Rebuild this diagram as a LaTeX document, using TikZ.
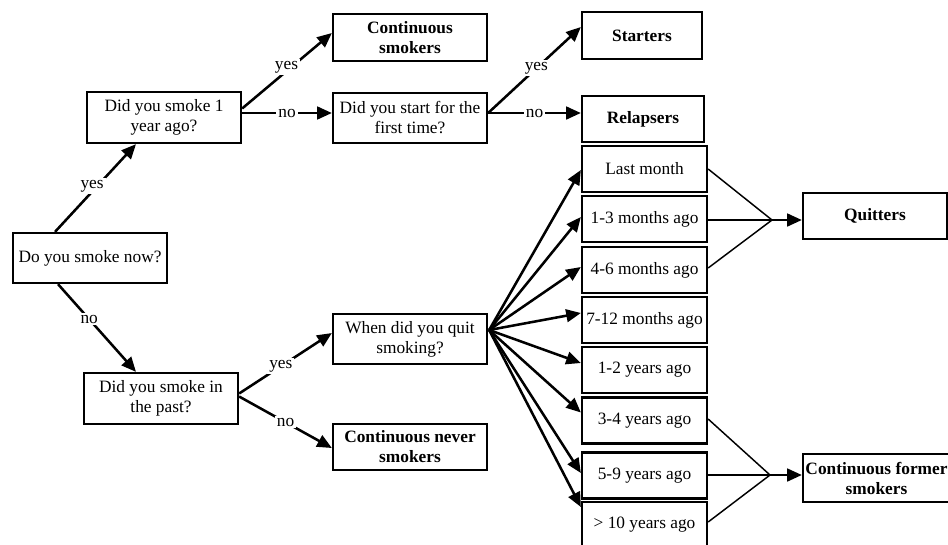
\documentclass[tikz,border=0pt]{standalone}
\usepackage{fontspec}
\setmainfont{Liberation Serif}
\usetikzlibrary{arrows.meta,calc}
\newlength\upx \setlength\upx{0.75pt}
\begin{document}
\begin{tikzpicture}[x=0.75pt,y=-0.75pt,
  box/.style={draw,line width=1.7pt,inner sep=0pt,align=center,font=\fontsize{13}{15}\selectfont},
  qbox/.style={box,minimum width=154\upx,minimum height=50\upx},
  tbox/.style={box,minimum width=125\upx,minimum height=46\upx},
  obox/.style={box,font=\fontsize{13}{15}\selectfont\bfseries},
  arr/.style={line width=1.9pt,-{Triangle[length=11pt,width=9.5pt]}},
  thinln/.style={line width=1.1pt},
  lbl/.style={fill=white,inner sep=1.5pt,font=\fontsize{13}{15}\selectfont}]
\useasboundingbox (0,0) rectangle (948,544);
\clip (0,0) rectangle (948,544);

% question boxes
\node[qbox] (now) at (90,258) {Do you smoke now?};
\node[qbox,minimum height=51\upx] (q1) at (164,117.5) {Did you smoke 1\\year ago?};
\node[qbox] (ft) at (410,118) {Did you start for the\\first time?};
\node[qbox,minimum height=51\upx] (past) at (161,398.5) {Did you smoke in\\the past?};
\node[qbox] (when) at (410,339) {When did you quit\\smoking?};

% outcome boxes
\node[obox,minimum width=154\upx,minimum height=47\upx] (cs) at (410,37.5) {Continuous\\smokers};
\node[obox,minimum width=120\upx,minimum height=47\upx] (st) at (642,35.5) {Starters};
\node[obox,minimum width=122\upx,minimum height=46\upx] (rel) at (643,119) {Relapsers};
\node[obox,minimum width=154\upx,minimum height=46\upx] (never) at (410,447) {Continuous never\\smokers};
\node[obox,minimum width=144\upx,minimum height=46\upx] (quit) at (875,216) {Quitters};
\node[draw,line width=1.7pt,minimum width=157\upx,minimum height=48\upx,inner sep=0pt] (former) at (881.5,478) {};
\node[obox,draw=none,anchor=center] (formert) at (876.5,478) {Continuous former\\smokers};

% time boxes
\node[tbox] (t1) at (644.5,169) {Last month};
\node[tbox] (t2) at (644.5,219) {1-3 months ago};
\node[tbox] (t3) at (644.5,270) {4-6 months ago};
\node[tbox] (t4) at (644.5,320) {7-12 months ago};
\node[tbox] (t5) at (644.5,370) {1-2 years ago};
\node[tbox] (t6) at (644.5,420.5) {3-4 years ago};
\node[tbox] (t7) at (644.5,475.5) {5-9 years ago};
\node[tbox] (t8) at (644.5,525) {> 10 years ago};

% decision connectors
\draw[arr] ($(now.north)+(-35,0)$) -- node[lbl,pos=0.52,xshift=-5\upx] {yes} ($(q1.south)+(-28,0)$);
\draw[arr] ($(now.south)+(-32,0)$) -- node[lbl,pos=0.4] {no} ($(past.north)+(-25,0)$);
\draw[arr] ($(q1.east)+(0,-9)$) -- node[lbl,pos=0.55,xshift=-5\upx] {yes} ($(cs.west)+(0,-4.5)$);
\draw[arr] ($(q1.east)+(0,-4.5)$) -- node[lbl,pos=0.5] {no} ($(ft.west)+(0,-5)$);
\draw[arr] ($(ft.east)+(0,-5)$) -- node[lbl,pos=0.52] {yes} ($(st.west)+(0,-8.5)$);
\draw[arr] ($(ft.east)+(0,-5)$) -- node[lbl,pos=0.5] {no} ($(rel.west)+(0,-6)$);
\draw[arr] ($(past.east)+(0,-5)$) -- node[lbl,pos=0.45] {yes} ($(when.west)+(0,-6)$);
\draw[arr] ($(past.east)+(0,-2)$) -- node[lbl,pos=0.5] {no} ($(never.west)+(0,1)$);

% fan from "when"
\coordinate (fo) at ($(when.east)+(1,-9)$);
\draw[arr] (fo) -- ($(t1.west)+(0,1)$);
\draw[arr] (fo) -- ($(t2.west)+(0,-2)$);
\draw[arr] (fo) -- ($(t3.west)+(0,-3)$);
\draw[arr] (fo) -- ($(t4.west)+(0,-7)$);
\draw[arr] (fo) -- ($(t5.west)+(0,-7)$);
\draw[arr] (fo) -- ($(t6.west)+(0,-8)$);
\draw[arr] (fo) -- ($(t7.west)+(0,-2.5)$);
\draw[arr] (fo) -- ($(t8.west)+(0,-18)$);

% merge to quitters
\coordinate (jq) at (772,220);
\draw[thinln] (t1.east) -- (jq);
\draw[thinln] ($(t3.east)+(0,-2)$) -- (jq);
\draw[line width=1.9pt] ($(t2.east)+(0,1)$) -- (jq);
\draw[arr] (jq) -- (jq -| quit.west);

% merge to former smokers
\coordinate (jf) at (770,475);
\draw[thinln] ($(t6.east)+(0,-1.5)$) -- (jf);
\draw[thinln] ($(t8.east)+(0,-3)$) -- (jf);
\draw[arr] ($(t7.east)+(0,-0.5)$) -- (former.west |- jf);
\end{tikzpicture}
\end{document}
